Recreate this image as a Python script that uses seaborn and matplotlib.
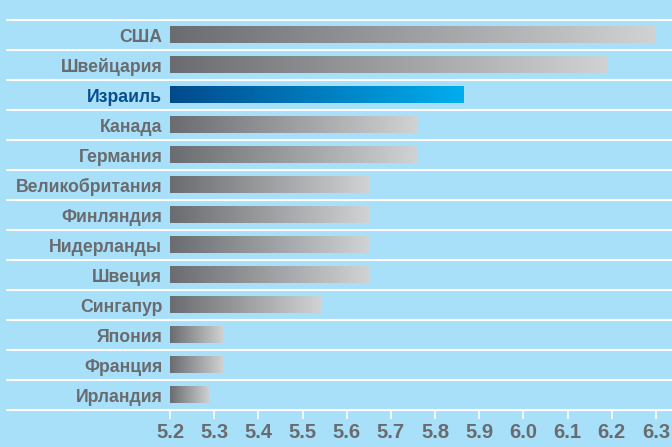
import numpy as np
import pandas as pd
import matplotlib
matplotlib.use("Agg")
import matplotlib.pyplot as plt
import seaborn as sns
from matplotlib.colors import LinearSegmentedColormap

# данные
countries = ["США", "Швейцария", "Израиль", "Канада", "Германия", "Великобритания",
             "Финляндия", "Нидерланды", "Швеция", "Сингапур", "Япония", "Франция", "Ирландия"]
scores = [6.30, 6.19, 5.865, 5.76, 5.76, 5.65, 5.65, 5.65, 5.65, 5.54, 5.32, 5.32, 5.29]
highlight = "Израиль"
tick_values = [5.2, 5.3, 5.4, 5.5, 5.6, 5.7, 5.8, 5.9, 6.0, 6.1, 6.2, 6.3]

bg = "#a8e0fa"
grey_text = "#6a6b6e"
blue_text = "#0a4d8f"
grey_cmap = LinearSegmentedColormap.from_list("grey", ["#6b6c6f", "#d1d2d4"])
blue_cmap = LinearSegmentedColormap.from_list("blue", ["#004a8c", "#00aeef"])

sns.set_theme(style="white")
plt.rcParams["font.family"] = ["Liberation Sans", "DejaVu Sans"]

fig = plt.figure(figsize=(6.72, 4.47), dpi=100, facecolor=bg)
ax = fig.add_axes([170 / 672, 37 / 447, 502 / 672, 390 / 447])
ax.set_facecolor(bg)

df = pd.DataFrame({"country": countries, "score": scores})
sns.barplot(data=df, x="score", y="country", orient="h", width=0.56,
            color="grey", ax=ax)

xmin, xmax = 5.2, 5.2 + 502 / 441.8
grad = np.linspace(0, 1, 256).reshape(1, -1)

# градиентная заливка поверх столбцов
for patch in ax.patches:
    x0, y0 = patch.get_x(), patch.get_y()
    w, h = patch.get_width(), patch.get_height()
    idx = int(round(y0 + h / 2))
    cmap = blue_cmap if countries[idx] == highlight else grey_cmap
    ax.imshow(grad, extent=[max(x0, xmin), x0 + w, y0 + h, y0], cmap=cmap,
              aspect="auto", zorder=2, interpolation="bilinear")
    patch.set_visible(False)

ax.set_xlim(xmin, xmax)
ax.set_ylim(12.5, -0.5)

# белые линии между строками
for k in range(len(countries) + 1):
    ax.axhline(k - 0.5, xmin=-163 / 502, xmax=1, color="white", lw=1.5,
               clip_on=False, zorder=1)

for s in ax.spines.values():
    s.set_visible(False)

ax.set_xticks(tick_values)
ax.set_xticklabels([f"{v:.1f}" for v in tick_values])
ax.tick_params(axis="x", bottom=True, length=6.5, width=1.2, color="white",
               pad=2.5, labelsize=14.5, labelcolor=grey_text)
ax.tick_params(axis="y", length=0, pad=5.5, labelsize=12.7)
for lbl in ax.get_xticklabels():
    lbl.set_fontweight("bold")
for lbl in ax.get_yticklabels():
    lbl.set_fontweight("bold")
    lbl.set_color(blue_text if lbl.get_text() == highlight else grey_text)

ax.set_xlabel("")
ax.set_ylabel("")

fig.savefig("out.png", dpi=100, facecolor=bg)
